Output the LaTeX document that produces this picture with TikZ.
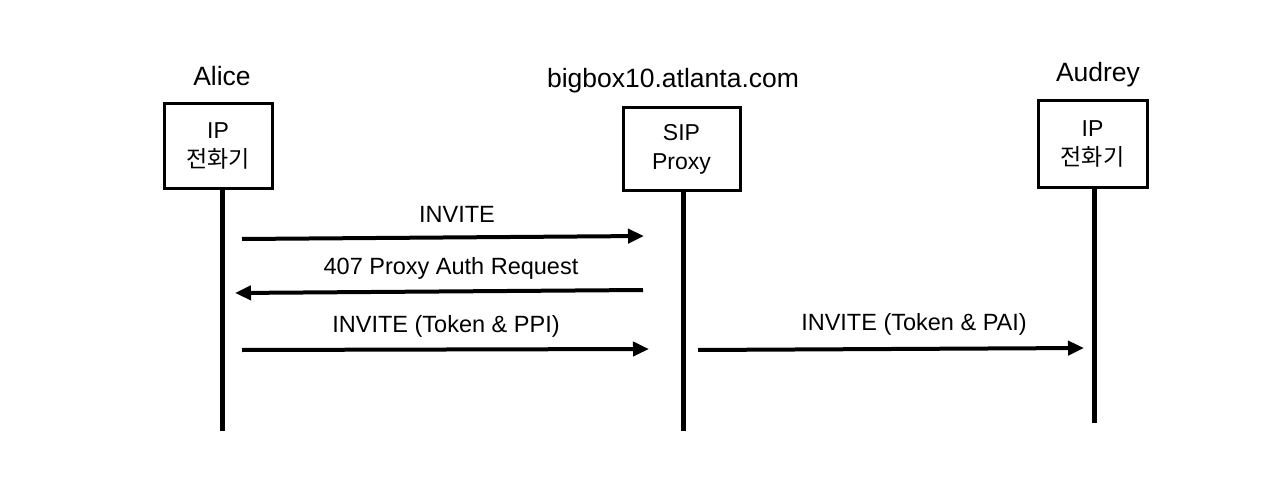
\documentclass[tikz,border=0pt]{standalone}
\usepackage{fontspec}
\setmainfont{Liberation Sans}
\newfontfamily\kr{Noto Sans CJK KR}
\usetikzlibrary{arrows.meta}
\begin{document}
\begin{tikzpicture}[x=1pt,y=-1pt,
  box/.style={draw,line width=3pt,inner sep=0pt,font=\fontsize{23}{29}\selectfont,align=center},
  title/.style={font=\fontsize{26.5}{30}\selectfont,inner sep=0pt},
  msglabel/.style={font=\fontsize{23.5}{26}\selectfont,inner sep=0pt},
  lifeline/.style={line width=5pt},
  msg/.style={line width=4pt,-{Triangle[length=16pt,width=14pt]}}]
\useasboundingbox (0,0) rectangle (1280,484);
% titles
\node[title] (tAlice) at (222,76) {Alice};
\node[title] (tProxy) at (673,81) {bigbox10.atlanta.com};
\node[title] (tAudrey) at (1098,75) {Audrey};
% boxes
\node[box,minimum width=108pt,minimum height=84pt] (alice) at (218,146) {IP\\{\kr 전화기}};
\node[box,minimum width=117pt,minimum height=82pt] (proxy) at (681.5,149) {SIP\\Proxy};
\node[box,minimum width=109pt,minimum height=86pt] (audrey) at (1092.5,144) {IP\\{\kr 전화기}};
% lifelines
\coordinate (aTop) at (222,188);
\coordinate (aEnd) at (222,431);
\coordinate (pTop) at (683,190);
\coordinate (pEnd) at (683,431);
\coordinate (dTop) at (1094,187);
\coordinate (dEnd) at (1094,423);
\draw[lifeline] (aTop) -- (aEnd);
\draw[lifeline] (pTop) -- (pEnd);
\draw[lifeline] (dTop) -- (dEnd);
% messages
\coordinate (m1s) at (242,239);
\coordinate (m1e) at (644,236);
\coordinate (m2s) at (643,290);
\coordinate (m2e) at (235,293);
\coordinate (m3s) at (242,350);
\coordinate (m3e) at (649,349);
\coordinate (m4s) at (698,350);
\coordinate (m4e) at (1084,348);
\draw[msg] (m1s) -- (m1e);
\draw[msg] (m2s) -- (m2e);
\draw[msg] (m3s) -- (m3e);
\draw[msg] (m4s) -- (m4e);
\node[msglabel] (l1) at (457,214) {INVITE};
\node[msglabel] (l2) at (451,268) {407 Proxy Auth Request};
\node[msglabel] (l3) at (446,326) {INVITE (Token \& PPI)};
\node[msglabel] (l4) at (914,324) {INVITE (Token \& PAI)};
\end{tikzpicture}
\end{document}
